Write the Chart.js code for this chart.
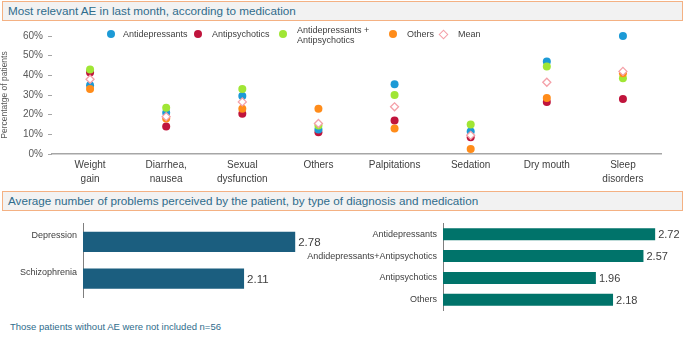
<!DOCTYPE html>
<html>
<head>
<meta charset="utf-8">
<script src="https://cdn.jsdelivr.net/npm/chart.js@4"></script>
<style>
  body { margin: 0; width: 685px; height: 337px; background: #fff; position: relative; overflow: hidden;
         font-family: "Liberation Sans", Arial, sans-serif; color: #404040; }
  .box { position: absolute; left: 2px; width: 674px; height: 18px; background: #f2f2f2;
         border: 1px solid #f4b183; color: #2f6c8c; font-size: 11.7px; line-height: 18px; padding-left: 5px; box-sizing: content-box; }
  .cv { position: absolute; }
  .lg { position: absolute; font-size: 9px; color: #404040; line-height: 10px; white-space: nowrap; }
  .dot { position: absolute; width: 8px; height: 8px; border-radius: 50%; }
  .dia { position: absolute; width: 5px; height: 5px; background: #fff; border: 1.3px solid #f4a0a8; transform: rotate(45deg); }
  .note { position: absolute; left: 10px; top: 321px; font-size: 9.5px; color: #2f6c8c; }
</style>
</head>
<body>
<div class="box" style="top:1px">Most relevant AE in last month, according to medication</div>
<div class="cv" style="left:0;top:22px;width:685px;height:164px"><canvas id="ae"></canvas></div>

<div class="dot" style="left:107px;top:30px;background:#1c9ad6"></div>
<div class="lg" style="left:123px;top:29px">Antidepressants</div>
<div class="dot" style="left:194px;top:30px;background:#c0143c"></div>
<div class="lg" style="left:212px;top:29px">Antipsychotics</div>
<div class="dot" style="left:279px;top:30px;background:#a0e635"></div>
<div class="lg" style="left:297px;top:25px">Antidepressants +<br>Antipsychotics</div>
<div class="dot" style="left:389px;top:30px;background:#ff8c1a"></div>
<div class="lg" style="left:407px;top:29px">Others</div>
<div class="dia" style="left:440px;top:31px"></div>
<div class="lg" style="left:458px;top:29px">Mean</div>

<div class="box" style="top:191px">Average number of problems perceived by the patient, by type of diagnosis and medication</div>
<div class="cv" style="left:0;top:212px;width:340px;height:100px"><canvas id="diag"></canvas></div>
<div class="cv" style="left:290px;top:212px;width:395px;height:110px"><canvas id="med"></canvas></div>
<div class="note">Those patients without AE were not included n=56</div>

<script>
const aeCategories = [['Weight', 'gain'], ['Diarrhea,', 'nausea'], ['Sexual', 'dysfunction'], 'Others',
  'Palpitations', 'Sedation', 'Dry mouth', ['Sleep', 'disorders']]
const antidepressants = [35, 21, 29.5, 12.5, 35.5, 11.5, 47, 60]
const antipsychotics  = [41.5, 14, 20.5, 11, 17, 8.5, 26.5, 28]
const combined        = [43, 23.5, 33, 14.5, 30, 15, 44.5, 38.5]
const others          = [33, 18, 23, 23, 13, 2.5, 28.5, 41]
const mean            = [38, 19, 26.5, 15.5, 24, 9.5, 36.5, 42]
const pctTicks        = [0, 10, 20, 30, 40, 50, 60]

const diagLabels = ['Depression', 'Schizophrenia']
const diagValues = [2.78, 2.11]
const medLabels  = ['Antidepressants', 'Andidepressants+Antipsychotics', 'Antipsychotics', 'Others']
const medValues  = [2.72, 2.57, 1.96, 2.18]

const FONT = '"Liberation Sans", Arial, sans-serif'

const dots = (label, data, color, order) => ({
  label, data, order,
  showLine: false,
  clip: false,
  pointRadius: 4,
  pointBackgroundColor: color,
  pointBorderColor: color,
  pointBorderWidth: 0,
})

new Chart(document.getElementById('ae'), {
  type: 'line',
  data: {
    labels: aeCategories,
    datasets: [
      dots('Antidepressants', antidepressants, '#1c9ad6', 3),
      dots('Antipsychotics', antipsychotics, '#c0143c', 4),
      dots('Antidepressants + Antipsychotics', combined, '#a0e635', 2),
      dots('Others', others, '#ff8c1a', 1),
      {
        label: 'Mean', data: mean, order: 0, showLine: false, clip: false,
        pointStyle: 'rectRot', pointRadius: 4,
        pointBackgroundColor: '#fff', pointBorderColor: '#f4a0a8', pointBorderWidth: 1.3,
      },
    ],
  },
  options: {
    responsive: true,
    maintainAspectRatio: false,
    animation: false,
    layout: { padding: { top: 14, right: 24, left: 0, bottom: 0 } },
    plugins: { legend: { display: false }, tooltip: { enabled: false } },
    scales: {
      x: {
        offset: true,
        grid: { display: false },
        border: { color: '#a6a6a6', width: 1.5 },
        ticks: { color: '#404040', font: { family: FONT, size: 10, lineHeight: 1.4 }, maxRotation: 0, padding: -4 },
        afterFit: s => { s.height = 32 },
      },
      y: {
        min: 0, max: 60,
        afterBuildTicks: s => { s.ticks = pctTicks.map(v => ({ value: v })) },
        grid: { drawOnChartArea: false, tickLength: 4, color: '#a6a6a6' },
        border: { display: false },
        ticks: { color: '#595959', font: { family: FONT, size: 10 }, padding: 5, callback: v => v + '%' },
        title: { display: true, text: 'Percentatge of patients', color: '#595959',
                 font: { family: FONT, size: 8.5 }, padding: 0 },
        afterFit: s => { s.width = 52 },
      },
    },
  },
})

const valueLabels = size => ({
  id: 'valueLabels',
  afterDatasetsDraw(chart) {
    const ctx = chart.ctx
    const meta = chart.getDatasetMeta(0)
    ctx.save()
    ctx.font = size + 'px ' + FONT
    ctx.fillStyle = '#404040'
    ctx.textBaseline = 'middle'
    meta.data.forEach((bar, i) => {
      ctx.fillText(chart.data.datasets[0].data[i].toFixed(2), bar.x + 3, bar.y + 1)
    })
    ctx.restore()
  },
})

const barChart = (id, labels, values, color, yWidth, padding, labelOffset, labelSize) => new Chart(document.getElementById(id), {
  type: 'bar',
  data: { labels, datasets: [{ data: values, backgroundColor: color, categoryPercentage: 1, barPercentage: 0.55 }] },
  plugins: [valueLabels(labelSize)],
  options: {
    indexAxis: 'y',
    responsive: true,
    maintainAspectRatio: false,
    animation: false,
    layout: { padding },
    plugins: { legend: { display: false }, tooltip: { enabled: false } },
    scales: {
      x: { display: false, min: 0, max: 3 },
      y: {
        grid: { drawOnChartArea: false, drawTicks: false },
        border: { color: '#7f7f7f', width: 1 },
        ticks: { color: '#404040', font: { family: FONT, size: 9 }, padding: 6, labelOffset },
        afterFit: s => { s.width = yWidth },
      },
    },
  },
})

barChart('diag', diagLabels, diagValues, '#1b5e7f', 83, { top: 9, bottom: 15, right: 28, left: 0 }, -6, 11.5)
barChart('med', medLabels, medValues, '#00736a', 153, { top: 8, bottom: 11, right: 8, left: 0 }, 0, 11)
</script>
</body>
</html>
